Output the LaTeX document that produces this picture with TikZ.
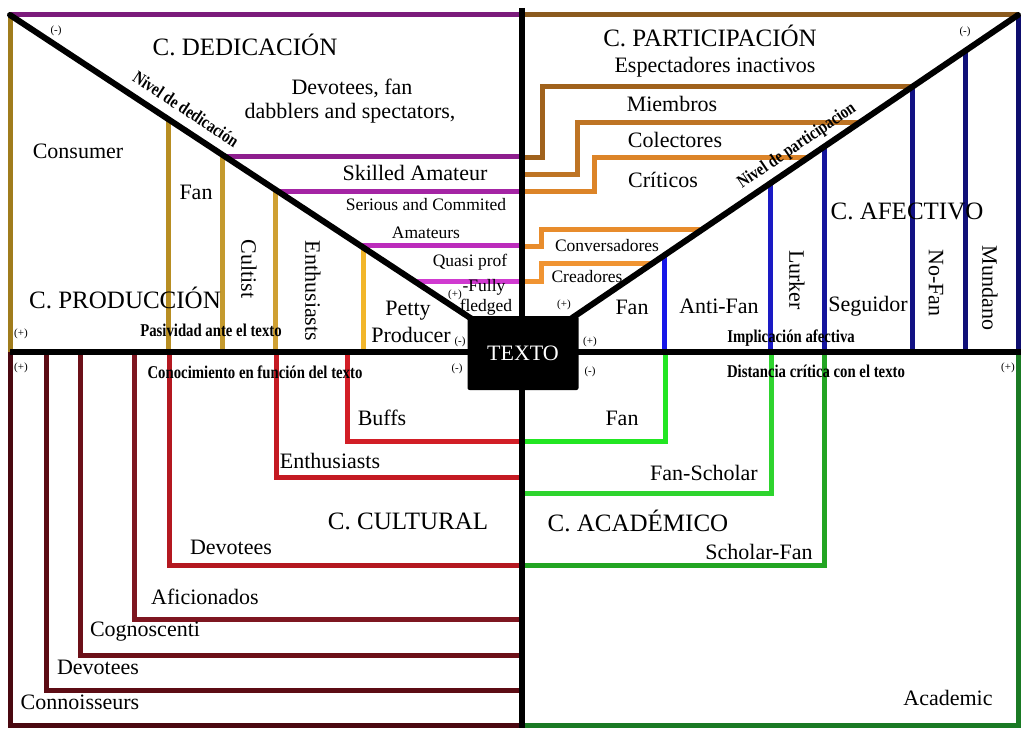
\documentclass[tikz,border=0pt]{standalone}
\usepackage{fontspec}
\setmainfont{Liberation Serif}
\definecolor{purA}{HTML}{7B1B7B}
\definecolor{purB}{HTML}{8E1E8E}
\definecolor{purC}{HTML}{A424A4}
\definecolor{purD}{HTML}{BC2CBC}
\definecolor{purE}{HTML}{D03AD0}
\definecolor{golA}{HTML}{A07C1C}
\definecolor{golB}{HTML}{B88E22}
\definecolor{golC}{HTML}{C49A2E}
\definecolor{golD}{HTML}{CFA032}
\definecolor{golE}{HTML}{F2B62A}
\definecolor{brnA}{HTML}{8B5A1E}
\definecolor{brnB}{HTML}{A0621C}
\definecolor{brnC}{HTML}{BE7424}
\definecolor{orgA}{HTML}{DC8428}
\definecolor{orgB}{HTML}{E88C2C}
\definecolor{orgC}{HTML}{F09432}
\definecolor{navA}{HTML}{1616E8}
\definecolor{navB}{HTML}{1A1AC4}
\definecolor{navC}{HTML}{14149C}
\definecolor{navD}{HTML}{121284}
\definecolor{navE}{HTML}{101078}
\definecolor{navF}{HTML}{0E0E6E}
\definecolor{redA}{HTML}{4A0810}
\definecolor{redB}{HTML}{5C0C14}
\definecolor{redC}{HTML}{6C1018}
\definecolor{redD}{HTML}{7E1620}
\definecolor{redE}{HTML}{B41820}
\definecolor{redF}{HTML}{C41A22}
\definecolor{redG}{HTML}{D21E26}
\definecolor{grnA}{HTML}{22E622}
\definecolor{grnB}{HTML}{2ED42E}
\definecolor{grnC}{HTML}{22A522}
\definecolor{grnD}{HTML}{1A7A24}
\begin{document}
\begin{tikzpicture}[x=1pt,y=-1pt,
  ln/.style={line width=5pt, line join=miter},
  bk/.style={line width=6pt, black},
  lbl/.style={font=\fontsize{22}{24}\selectfont, inner sep=0pt},
  ttl/.style={font=\fontsize{25}{27}\selectfont, inner sep=0pt},
  sml/.style={font=\fontsize{17.5}{19}\selectfont, inner sep=0pt},
  bld/.style={font=\fontsize{18}{18}\selectfont\bfseries, inner sep=0pt},
  pm/.style={font=\fontsize{11}{11}\selectfont, inner sep=0pt},
]
\useasboundingbox (0,0) rectangle (1034,738);
\fill[white] (0,0) rectangle (1034,738);
% key points
\coordinate (TL) at (10,15);
\coordinate (TR) at (1018,15);
\coordinate (C) at (522,352);
\coordinate (L) at (10,352);
\coordinate (R) at (1021,352);
\coordinate (CT) at (522,8);
\coordinate (CB) at (522,728);
% top lines
\draw[ln,purA] (TL) -- (522,15);
\draw[ln,brnA] (522,15) -- (TR);
% dedication (purple)
\draw[ln,purB] (225.7,157) -- (522,157);
\draw[ln,purC] (278.9,192) -- (522,192);
\draw[ln,purD] (361.0,246) -- (522,246);
\draw[ln,purE] (415.6,282) -- (522,282);
% production (gold)
\draw[ln,golA] (TL) -- (L);
\draw[ln,golB] (168,119.0) -- (168,352);
\draw[ln,golC] (222,154.5) -- (222,352);
\draw[ln,golD] (275,189.4) -- (275,352);
\draw[ln,golE] (363,247.3) -- (363,352);
% participation (orange)
\draw[ln,brnB] (522,158) -- (542,158) -- (542,87) -- (912,87);
\draw[ln,brnC] (522,175) -- (577,175) -- (577,123) -- (859,123);
\draw[ln,orgA] (522,192) -- (594,192) -- (594,158) -- (807.5,158);
\draw[ln,orgB] (522,247) -- (541,247) -- (541,230) -- (701.6,230);
\draw[ln,orgC] (522,282) -- (541,282) -- (541,264) -- (651.5,264);
% affective (navy)
\draw[ln,navA] (664,255.5) -- (664,352);
\draw[ln,navB] (770,183.5) -- (770,352);
\draw[ln,navC] (824,146.8) -- (824,352);
\draw[ln,navD] (912,87.0) -- (912,352);
\draw[ln,navE] (965,51.0) -- (965,352);
\draw[ln,navF] (TR) -- (1018,352);
% cultural (red)
\draw[ln,redA] (10,352) -- (10,725) -- (522,725);
\draw[ln,redB] (46,352) -- (46,690) -- (522,690);
\draw[ln,redC] (80,352) -- (80,655) -- (522,655);
\draw[ln,redD] (134,352) -- (134,619) -- (522,619);
\draw[ln,redE] (169,352) -- (169,565) -- (522,565);
\draw[ln,redF] (276,352) -- (276,477) -- (522,477);
\draw[ln,redG] (347,352) -- (347,441) -- (522,441);
% academic (green)
\draw[ln,grnA] (522,441) -- (665,441) -- (665,352);
\draw[ln,grnB] (522,493) -- (771,493) -- (771,352);
\draw[ln,grnC] (522,565) -- (824,565) -- (824,352);
\draw[ln,grnD] (522,725) -- (1018,725) -- (1018,352);
% black axes
\draw[bk] (CT) -- (CB);
\draw[bk] (L) -- (R);
\draw[bk, line cap=round] (TL) -- (C);
\draw[bk, line cap=round] (TR) -- (C);
% centre box
\node[fill=black, rounded corners=2pt, minimum width=111pt, minimum height=74pt,
      inner sep=0pt, text=white, font=\fontsize{22}{24}\selectfont] (texto) at (523,353) {TEXTO};

% ---- labels: dedication / production ----
\node[ttl] (tded) at (245,45) {C. DEDICACIÓN};
\node[pm] (mded) at (56,31) {(-)};
\node[bld, rotate=-33.4] (nded) at (186,109) {\scalebox{0.82}[1]{Nivel de dedicación}};
\node[lbl] (dev1) at (352,88) {Devotees, fan};
\node[lbl] (dev2) at (350,113) {dabblers and spectators,};
\node[lbl] (cons) at (78,151) {Consumer};
\node[lbl] (fan1) at (196,192) {Fan};
\node[lbl, rotate=-90] (cult) at (249,269) {Cultist};
\node[lbl, rotate=-90] (enth1) at (313,291) {Enthusiasts};
\node[lbl] (skil) at (415,173) {Skilled Amateur};
\node[sml] (seri) at (426,205) {Serious and Commited};
\node[sml] (amat) at (426,233) {Amateurs};
\node[sml] (quas) at (470,262) {Quasi prof};
\node[sml] (full) at (484,287) {-Fully};
\node[sml] (fled) at (486,307) {fledged};
\node[pm] (ppr) at (455,295) {(+)};
\node[lbl] (pett) at (408,311) {Petty};
\node[lbl] (prod) at (411,335) {Producer};
\node[pm] (mpr) at (460,342) {(-)};
\node[ttl] (tprod) at (125,298) {C. PRODUCCIÓN};
\node[pm] (ppr2) at (21,334) {(+)};
\node[bld] (pasi) at (211,330) {\scalebox{0.82}[1]{Pasividad ante el texto}};

% ---- labels: participation / affective ----
\node[ttl] (tpar) at (710,36) {C. PARTICIPACIÓN};
\node[pm] (mpar) at (965,32) {(-)};
\node[lbl] (espe) at (715,67) {Espectadores inactivos};
\node[lbl] (miem) at (672,104) {Miembros};
\node[lbl] (cole) at (675,140) {Colectores};
\node[lbl] (crit) at (663,180) {Críticos};
\node[bld, rotate=34.2] (npar) at (797,146) {\scalebox{0.82}[1]{Nivel de participacion}};
\node[ttl] (tafe) at (907,211) {C. AFECTIVO};
\node[sml] (conv) at (607,246) {Conversadores};
\node[sml] (crea) at (587,277) {Creadores};
\node[pm] (ppa) at (564,305) {(+)};
\node[lbl] (fan2) at (632,307) {Fan};
\node[lbl] (anti) at (719,306) {Anti-Fan};
\node[lbl, rotate=-90] (lurk) at (797,280) {Lurker};
\node[lbl] (segu) at (868,306) {Seguidor};
\node[lbl, rotate=-90] (nofa) at (936,283) {No-Fan};
\node[lbl, rotate=-90] (mund) at (990,288) {Mundano};
\node[pm] (ppa2) at (590,342) {(+)};
\node[bld] (impl) at (791,338) {\scalebox{0.82}[1]{Implicación afectiva}};

% ---- labels: cultural ----
\node[pm] (pcu) at (21,368) {(+)};
\node[bld] (cono) at (255,372) {\scalebox{0.82}[1]{Conocimiento en función del texto}};
\node[pm] (mcu) at (457,369) {(-)};
\node[lbl] (buff) at (382,418) {Buffs};
\node[lbl] (enth2) at (330,461) {Enthusiasts};
\node[ttl] (tcul) at (408,521) {C. CULTURAL};
\node[lbl] (dev3) at (231,547) {Devotees};
\node[lbl] (afic) at (205,597) {Aficionados};
\node[lbl] (cogn) at (145,632) {Cognoscenti};
\node[lbl] (dev4) at (98,667) {Devotees};
\node[lbl] (conn) at (80,702) {Connoisseurs};

% ---- labels: academic ----
\node[pm] (mac) at (590,372) {(-)};
\node[bld] (dist) at (816,371) {\scalebox{0.82}[1]{Distancia crítica con el texto}};
\node[pm] (pac) at (1008,368) {(+)};
\node[lbl] (fan3) at (622,418) {Fan};
\node[lbl] (fsch) at (704,473) {Fan-Scholar};
\node[ttl] (taca) at (638,521) {C. ACADÉMICO};
\node[lbl] (schf) at (759,552) {Scholar-Fan};
\node[lbl] (acad) at (948,698) {Academic};
\end{tikzpicture}
\end{document}
